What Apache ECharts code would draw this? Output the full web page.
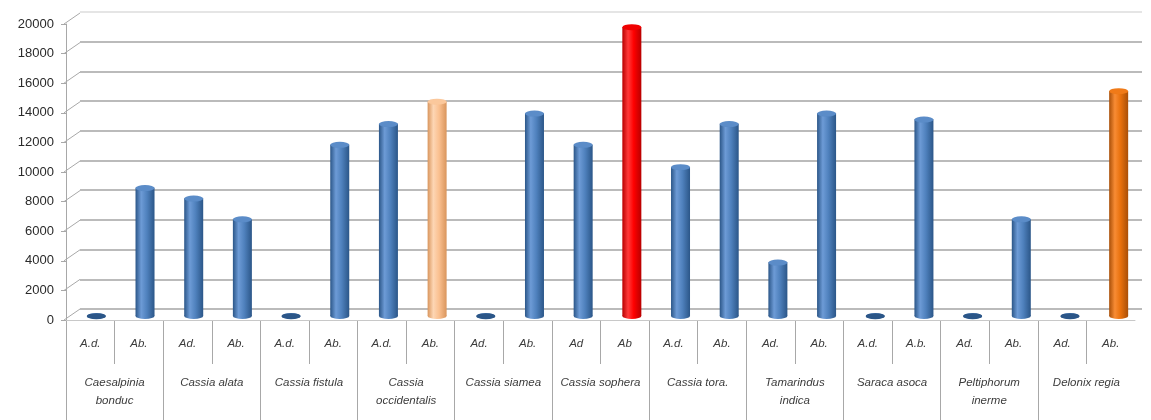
<!DOCTYPE html>
<html>
<head>
<meta charset="utf-8">
<script src="https://cdn.jsdelivr.net/npm/echarts@6/dist/echarts.min.js"></script>
<style>
html, body { margin: 0; padding: 0; background: #fff; }
#main { width: 1151px; height: 420px; }
</style>
</head>
<body>
<div id="main"></div>
<script>
// leaf / side labels, one per bar
var sideLabels = ['A.d.', 'Ab.', 'Ad.', 'Ab.', 'A.d.', 'Ab.', 'A.d.', 'Ab.', 'Ad.', 'Ab.', 'Ad', 'Ab',
                  'A.d.', 'Ab.', 'Ad.', 'Ab.', 'A.d.', 'A.b.', 'Ad.', 'Ab.', 'Ad.', 'Ab.'];
// species, one per pair of bars
var species = ['Caesalpinia\nbonduc', 'Cassia alata', 'Cassia fistula', 'Cassia\noccidentalis',
               'Cassia siamea', 'Cassia sophera', 'Cassia tora.', 'Tamarindus\nindica',
               'Saraca asoca', 'Peltiphorum\ninerme', 'Delonix regia'];
var values = [0, 8600, 7900, 6500, 0, 11500, 12900, 14400, 0, 13600, 11500, 19400,
              10000, 12900, 3600, 13600, 0, 13200, 0, 6500, 0, 15100];
var yTicks = [0, 2000, 4000, 6000, 8000, 10000, 12000, 14000, 16000, 18000, 20000];
var yMax = 20000,
    yStep = 2000;

// colours
var palettes = {
    blue:   {edge: '#2b5688', light: '#6d9bd6', mid: '#4f81bd', cap: '#5b8cc8'},
    peach:  {edge: '#d9955c', light: '#fdd6b4', mid: '#fac090', cap: '#fbc89c'},
    red:    {edge: '#b80000', light: '#ff3a3a', mid: '#ff0000', cap: '#f00000'},
    orange: {edge: '#a94f08', light: '#f88c34', mid: '#e8700c', cap: '#f07a18'}
};
var special = {7: 'peach', 11: 'red', 21: 'orange'};

function pal(i) {
    return palettes[special[i] || 'blue'];
}

function grad(p) {
    return new echarts.graphic.LinearGradient(0, 0, 1, 0, [
        {offset: 0, color: p.edge},
        {offset: 0.3, color: p.light},
        {offset: 0.6, color: p.mid},
        {offset: 1, color: p.edge}
    ]);
}

var barData = values.map(function (v, i) {
    return {value: v, itemStyle: {color: grad(pal(i))}};
});
var capData = values.map(function (v, i) {
    var p = pal(i);
    return {value: v, itemStyle: {color: v === 0 ? p.edge : p.cap, borderColor: p.edge, borderWidth: 0.8}};
});
var baseData = values.map(function (v, i) {
    return {value: v, itemStyle: {color: grad(pal(i))}};
});

// wall lines: the top one is paler
var wallColors = yTicks.map(function (v, i) {
    return i === yTicks.length - 1 ? '#dcdcdc' : '#a4a4a4';
});

var labelFont = {fontFamily: 'Liberation Sans', fontStyle: 'italic', fontSize: 11.5, color: '#3c3c3c'};
var sepLine = {show: true, interval: 0, showMinLine: true, showMaxLine: false,
               lineStyle: {color: '#a8a8a8', width: 1}};

// short slanted line from the front axis back to the wall
function renderSlant(params, api) {
    var p = api.coord([0, api.value(1)]),
        half = api.size([1, 0])[0] / 2,
        x0 = p[0] - half - 2;
    return {
        type: 'line',
        shape: {x1: x0, y1: p[1], x2: x0 + 16, y2: p[1] - 11},
        style: {stroke: '#a8a8a8', lineWidth: 1}
    };
}

var chart = echarts.init(document.getElementById('main'));
var option = {
    animation: false,
    grid: [
        // back wall (grid lines)
        {left: 80, right: 9, top: 12, bottom: 111, outerBoundsMode: 'none'},
        // front axes (labels)
        {left: 66, right: 16, top: 24, bottom: 100, outerBoundsMode: 'none'},
        // bars
        {left: 72, right: 8, top: 18, bottom: 104, outerBoundsMode: 'none'},
        // separators under the axis: species, then sides
        {left: 66, right: 16, top: 320, bottom: 0, outerBoundsMode: 'none'},
        {left: 66, right: 16, top: 320, height: 44, outerBoundsMode: 'none'}
    ],
    xAxis: [
        {gridIndex: 0, type: 'category', data: sideLabels, show: false},
        {
            gridIndex: 1, type: 'category', data: sideLabels, position: 'bottom',
            axisLine: {show: true, lineStyle: {color: '#c8c8c8', width: 1}},
            axisTick: {show: false},
            axisLabel: Object.assign({margin: 18, interval: 0}, labelFont)
        },
        {
            gridIndex: 1, type: 'category', data: species, position: 'bottom', offset: 0,
            axisLine: {show: false},
            axisTick: {show: false},
            axisLabel: Object.assign({margin: 54, interval: 0, lineHeight: 18}, labelFont)
        },
        {gridIndex: 2, type: 'category', data: sideLabels, show: false},
        {
            gridIndex: 3, type: 'category', data: species,
            axisLine: {show: false}, axisTick: {show: false}, axisLabel: {show: false},
            splitLine: sepLine
        },
        {
            gridIndex: 4, type: 'category', data: sideLabels,
            axisLine: {show: false}, axisTick: {show: false}, axisLabel: {show: false},
            splitLine: sepLine
        }
    ],
    yAxis: [
        {
            gridIndex: 0, type: 'value', min: 0, max: yMax, interval: yStep,
            axisLabel: {show: false}, axisLine: {show: false}, axisTick: {show: false},
            splitLine: {lineStyle: {color: wallColors, width: 1.5}}
        },
        {
            gridIndex: 1, type: 'value', min: 0, max: yMax, interval: yStep,
            axisLine: {show: true, lineStyle: {color: '#a8a8a8'}}, splitLine: {show: false},
            axisTick: {show: true, length: 5, lineStyle: {color: '#a8a8a8'}},
            axisLabel: {
                margin: 12, fontFamily: 'Liberation Sans', fontSize: 13, color: '#2a2a2a',
                formatter: function (v) { return String(v); }
            }
        },
        {gridIndex: 2, type: 'value', min: 0, max: yMax, interval: yStep, show: false, splitLine: {show: false}},
        {gridIndex: 3, type: 'value', show: false, splitLine: {show: false}},
        {gridIndex: 4, type: 'value', show: false, splitLine: {show: false}}
    ],
    series: [
        {
            type: 'custom', xAxisIndex: 1, yAxisIndex: 1, silent: true,
            renderItem: renderSlant,
            data: yTicks.map(function (v) { return [0, v]; })
        },
        {
            type: 'pictorialBar', xAxisIndex: 3, yAxisIndex: 2,
            symbol: 'circle', symbolSize: [19, 6], symbolPosition: 'start',
            symbolOffset: [0, '50%'], z: 2, data: baseData
        },
        {
            type: 'bar', xAxisIndex: 3, yAxisIndex: 2, barWidth: 19, z: 3, data: barData
        },
        {
            type: 'pictorialBar', xAxisIndex: 3, yAxisIndex: 2,
            symbol: 'circle', symbolSize: [19, 6], symbolPosition: 'end',
            symbolOffset: [0, '-50%'], z: 4, data: capData
        }
    ]
};
chart.setOption(option);
</script>
</body>
</html>
